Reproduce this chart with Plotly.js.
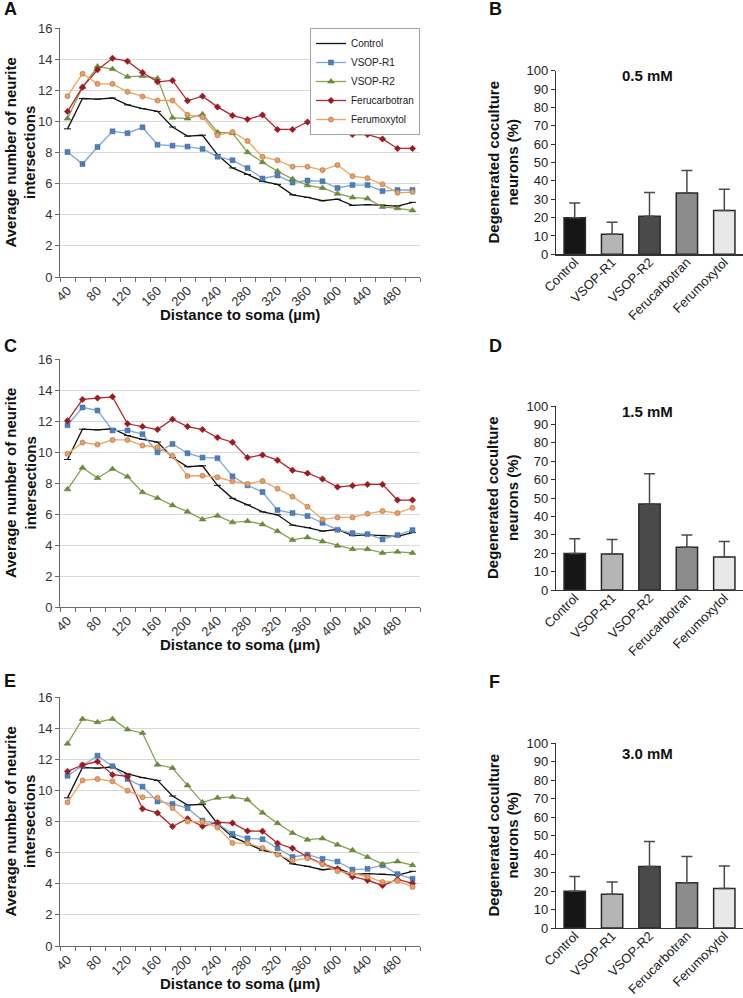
<!DOCTYPE html>
<html><head><meta charset="utf-8">
<script src="https://cdn.plot.ly/plotly-3.0.1.min.js"></script>
<style>html,body{margin:0;padding:0;background:#fff}#chart{width:743px;height:998px}</style>
</head><body><div id="chart"></div>
<script>
// ---------- data ----------
const distance = [40,60,80,100,120,140,160,180,200,220,240,260,280,300,320,340,360,380,400,420,440,460,480,500];
const distanceTicks = [40,80,120,160,200,240,280,320,360,400,440,480];
const seriesNames = ['Control','VSOP-R1','VSOP-R2','Ferucarbotran','Ferumoxytol'];

const control = [9.52,11.47,11.43,11.5,11.06,10.82,10.64,9.64,9.05,9.11,7.85,7.01,6.59,6.14,5.95,5.28,5.12,4.9,5.0,4.6,4.65,4.62,4.56,4.8];

// Panel A (0.5 mM)
const aVsopR1 = [8.03,7.26,8.35,9.36,9.24,9.62,8.5,8.44,8.38,8.23,7.73,7.5,7.0,6.33,6.52,6.07,6.2,6.15,5.72,5.91,5.91,5.52,5.59,5.59];
const aVsopR2 = [10.18,12.2,13.53,13.36,12.87,12.91,12.76,10.24,10.18,10.46,9.3,9.24,8.02,7.37,6.8,6.3,5.89,5.72,5.35,5.11,5.04,4.5,4.41,4.28];
const aFerucarbotran = [10.63,12.2,13.32,14.05,13.87,13.14,12.54,12.63,11.32,11.62,10.93,10.37,10.13,10.41,9.48,9.48,9.96,9.63,9.96,9.15,9.15,8.87,8.26,8.26];
const aFerumoxytol = [11.62,13.06,12.41,12.41,11.9,11.6,11.34,11.34,10.42,10.27,9.11,9.32,8.74,7.72,7.5,7.09,7.09,6.87,7.2,6.48,6.35,5.96,5.41,5.46];

// Panel C (1.5 mM)
const cVsopR1 = [11.73,12.87,12.68,11.39,11.39,11.15,9.98,10.52,9.92,9.64,9.6,8.43,7.85,7.42,6.25,6.06,5.87,5.43,4.98,4.77,4.7,4.36,4.64,4.96];
const cVsopR2 = [7.59,8.99,8.32,8.91,8.41,7.4,7.03,6.56,6.15,5.65,5.89,5.46,5.54,5.33,4.89,4.33,4.49,4.23,3.95,3.73,3.73,3.49,3.56,3.49];
const cFerucarbotran = [12.01,13.39,13.48,13.56,11.82,11.64,11.45,12.12,11.64,11.45,10.93,10.63,9.64,9.81,9.47,8.82,8.63,8.26,7.74,7.83,7.91,7.91,6.9,6.9];
const cFerumoxytol = [9.88,10.61,10.48,10.78,10.78,10.42,10.31,9.75,8.45,8.47,8.37,8.11,7.94,8.13,7.63,7.12,6.47,5.65,5.78,5.78,6.02,6.19,6.06,6.4];

// Panel E (3.0 mM)
const eVsopR1 = [10.94,11.59,12.23,11.55,10.73,10.24,9.29,9.13,8.86,8.06,7.87,7.21,6.92,6.86,6.28,5.72,5.87,5.6,5.43,4.91,4.96,5.19,4.62,4.32];
const eVsopR2 = [13.0,14.59,14.38,14.59,13.91,13.69,11.65,11.44,10.32,9.23,9.52,9.58,9.4,8.57,7.89,7.26,6.83,6.91,6.51,6.15,5.72,5.26,5.43,5.19];
const eFerucarbotran = [11.22,11.63,11.85,11.01,10.9,8.82,8.55,7.68,8.18,7.69,7.94,7.9,7.39,7.38,6.6,6.28,5.72,5.28,4.96,4.45,4.23,3.89,4.28,4.02];
const eFerumoxytol = [9.23,10.64,10.73,10.58,9.98,9.56,9.52,8.86,8.0,7.98,7.62,6.62,6.6,6.3,5.87,5.49,5.64,5.26,4.81,4.66,4.45,4.11,4.19,3.79];

// Bar panels: degenerated coculture neurons (%)
const barCategories = ['Control','VSOP-R1','VSOP-R2','Ferucarbotran','Ferumoxytol'];
const bar05 = [19.9,10.9,20.7,33.4,23.8];
const bar05Err = [8.1,6.5,12.9,12.2,11.6];
const bar15 = [19.9,19.6,46.7,23.2,17.9];
const bar15Err = [8.0,7.8,16.5,6.7,8.4];
const bar30 = [19.9,18.2,33.2,24.5,21.4];
const bar30Err = [7.9,6.7,13.6,14.2,12.1];

// ---------- styles ----------
const FONT = 'Arial, "Liberation Sans", Helvetica, sans-serif';
const W = 743, H = 998;
const px = x => x / W;
const py = y => 1 - y / H;

const lineStyles = [
  {line:{color:'#111111',width:1.3}, marker:{symbol:'line-ew',size:5,color:'#111111',line:{color:'#111111',width:1}}},
  {line:{color:'#7ea6d6',width:1.3}, marker:{symbol:'square',size:5,color:'#4f7fba',line:{color:'#3d6ca5',width:0.5}}},
  {line:{color:'#86a34e',width:1.3}, marker:{symbol:'triangle-up',size:6,color:'#6e8c3c',line:{color:'#5a7530',width:0.5}}},
  {line:{color:'#b3262d',width:1.3}, marker:{symbol:'diamond',size:5,color:'#9a1b22',line:{color:'#9a1b22',width:0.5}}},
  {line:{color:'#f2a35a',width:1.3}, marker:{symbol:'circle',size:5,color:'#e3a070',line:{color:'#c27a45',width:0.8}}}
];
const barColors = ['#161616','#b5b5b5','#4a4a4a','#8c8c8c','#e8e8e8'];

const linePanels = [
  {xa:'x', ya:'y', series:[control,aVsopR1,aVsopR2,aFerucarbotran,aFerumoxytol], legend:true},
  {xa:'x3', ya:'y3', series:[control,cVsopR1,cVsopR2,cFerucarbotran,cFerumoxytol], legend:false},
  {xa:'x5', ya:'y5', series:[control,eVsopR1,eVsopR2,eFerucarbotran,eFerumoxytol], legend:false}
];
const barPanels = [
  {xa:'x2', ya:'y2', y:bar05, err:bar05Err},
  {xa:'x4', ya:'y4', y:bar15, err:bar15Err},
  {xa:'x6', ya:'y6', y:bar30, err:bar30Err}
];

const traces = [];
linePanels.forEach(p => {
  p.series.forEach((s, i) => {
    traces.push({
      type:'scatter', mode:'lines+markers', x:distance, y:s, name:seriesNames[i],
      xaxis:p.xa, yaxis:p.ya, showlegend:p.legend, legendgroup:seriesNames[i],
      line:lineStyles[i].line, marker:lineStyles[i].marker, hoverinfo:'x+y+name'
    });
  });
});
barPanels.forEach(p => {
  traces.push({
    type:'bar', x:barCategories, y:p.y, xaxis:p.xa, yaxis:p.ya, showlegend:false,
    width:0.57,
    marker:{color:barColors, line:{color:'#2a2a2a', width:1.5}},
    error_y:{type:'data', symmetric:false, array:p.err, arrayminus:p.err.map(()=>0),
             color:'#4a4a4a', thickness:1.5, width:5.5}
  });
});

// ---------- axes ----------
const minorVals = [];
for (let v = 30; v <= 510; v += 20) minorVals.push(v);

function lineX() {
  return {
    domain:[px(60), px(420)], range:[30,510], tickmode:'array', tickvals:distanceTicks,
    ticktext:distanceTicks.map(String), tickangle:-45, ticks:'', showgrid:false, zeroline:false,
    showline:true, linecolor:'#6b6b6b', linewidth:1,
    tickfont:{family:FONT, size:13, color:'#333'},
    minor:{tickvals:minorVals, ticks:'outside', ticklen:4, tickwidth:1, tickcolor:'#6b6b6b', showgrid:false},
    fixedrange:true
  };
}
function lineY(top, bottom, anchor) {
  return {
    domain:[py(bottom), py(top)], range:[0,16], dtick:2, tick0:0, anchor:anchor,
    showgrid:true, gridcolor:'#d9d9d9', gridwidth:1, zeroline:false,
    showline:true, linecolor:'#6b6b6b', linewidth:1, ticks:'outside', ticklen:4, tickcolor:'#6b6b6b',
    tickfont:{family:FONT, size:13, color:'#333'}, fixedrange:true
  };
}
function barX(anchor) {
  return {
    domain:[px(556), 1], range:[-0.5,4.5], type:'category', tickangle:-45, ticks:'',
    showline:true, linecolor:'#333', linewidth:1.2, showgrid:false, zeroline:false, anchor:anchor,
    ticklabelstandoff:-6,
    tickfont:{family:FONT, size:13, color:'#222'}, fixedrange:true
  };
}
function barY(top, bottom, anchor) {
  return {
    domain:[py(bottom), py(top)], range:[0,100], dtick:10, tick0:0, anchor:anchor,
    showgrid:false, zeroline:false, showline:true, linecolor:'#333', linewidth:1.2,
    ticks:'outside', ticklen:4, tickcolor:'#333',
    tickfont:{family:FONT, size:13, color:'#222'}, fixedrange:true
  };
}

const layout = {
  width:W, height:H, margin:{l:0,r:0,t:0,b:0}, paper_bgcolor:'#fff', plot_bgcolor:'#fff',
  font:{family:FONT, color:'#222'},
  xaxis: Object.assign(lineX(), {anchor:'y'}),
  yaxis: lineY(28, 277, 'x'),
  xaxis3: Object.assign(lineX(), {anchor:'y3'}),
  yaxis3: lineY(359, 607, 'x3'),
  xaxis5: Object.assign(lineX(), {anchor:'y5'}),
  yaxis5: lineY(697, 946, 'x5'),
  xaxis2: barX('y2'), yaxis2: barY(70.7, 254.3, 'x2'),
  xaxis4: barX('y4'), yaxis4: barY(406, 590, 'x4'),
  xaxis6: barX('y6'), yaxis6: barY(743, 928, 'x6'),
  bargap:0.4,
  showlegend:true,
  legend:{x:px(420), xanchor:'right', y:py(28), yanchor:'top', bgcolor:'#fff',
          bordercolor:'#a6a6a6', borderwidth:1, font:{family:FONT, size:10, color:'#222'},
          itemwidth:30, tracegroupgap:0, traceorder:'normal'},
  annotations:[]
};

const ann = layout.annotations;
function addText(text, x, y, size, opts) {
  ann.push(Object.assign({text:text, x:px(x), y:py(y), xref:'paper', yref:'paper', showarrow:false,
    xanchor:'center', yanchor:'middle', font:{family:FONT, size:size, color:'#111'}}, opts||{}));
}
// panel letters
[['A',2,9],['C',2,346],['E',2,681],['B',487,9],['D',487,346],['F',487,682]].forEach(l =>
  addText('<b>'+l[0]+'</b>', l[1], l[2], 18, {xanchor:'left'}));
// line-panel axis titles
[[152.5,314],[483,644],[821.5,983]].forEach(t => {
  addText('<b>Average number of neurite<br>intersections</b>', 20, t[0], 15, {textangle:-90});
  addText('<b>Distance to soma (µm)</b>', 240, t[1], 15);
});
// bar-panel titles
[[162.5,'0.5 mM',75],[498,'1.5 mM',411],[835.5,'3.0 mM',753]].forEach(t => {
  addText('<b>Degenerated coculture<br>neurons (%)</b>', 503, t[0], 15, {textangle:-90});
  addText('<b>'+t[1]+'</b>', 647, t[2], 15);
});

Plotly.newPlot('chart', traces, layout, {staticPlot:true, displayModeBar:false});
</script></body></html>
